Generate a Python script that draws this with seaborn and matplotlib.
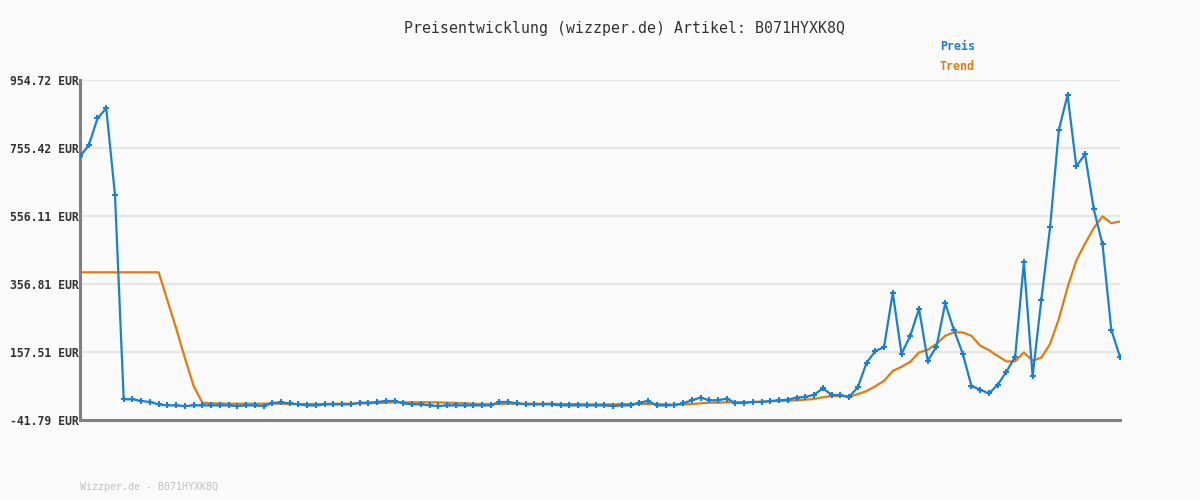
import numpy as np
import pandas as pd
import matplotlib
matplotlib.use("Agg")
import matplotlib.pyplot as plt
import seaborn as sns

# Price values (EUR)
preis = [
    731, 763, 842, 872, 619, 19, 19, 14, 11, 4,
    1, 1, -1, 1, 1, 1, 1, 1, -1, 1,
    1, -1, 8, 10, 7, 4, 1, 1, 4, 4,
    4, 4, 9, 9, 11, 14, 14, 7, 4, 4,
    1, -1, 1, 1, 1, 1, 1, 1, 11, 11,
    7, 4, 4, 4, 4, 1, 1, 1, 1, 1,
    1, -1, 1, 1, 9, 14, 1, 1, 2, 7,
    16, 24, 16, 16, 21, 8, 8, 11, 11, 14,
    16, 18, 24, 26, 32, 51, 32, 31, 26, 54,
    126, 160, 172, 331, 152, 205, 284, 132, 173, 300,
    222, 153, 58, 47, 36, 61, 100, 143, 420, 87,
    311, 523, 808, 911, 702, 737, 576, 473, 223, 143,
]

trend = [
    391, 391, 391, 391, 391, 391, 391, 391, 391, 391,
    309, 227, 140, 58, 9, 7, 7, 6, 6, 6,
    6, 6, 6, 6, 5, 5, 5, 5, 5, 6,
    6, 6, 7, 7, 8, 9, 10, 10, 10, 10,
    10, 10, 9, 8, 7, 6, 5, 5, 5, 6,
    6, 6, 6, 6, 6, 5, 5, 5, 4, 4,
    4, 4, 5, 5, 5, 5, 5, 4, 3, 4,
    5, 7, 9, 9, 10, 10, 11, 11, 12, 13,
    14, 15, 16, 18, 20, 25, 28, 29, 26, 34,
    43, 57, 73, 102, 114, 129, 156, 164, 181, 205,
    215, 215, 205, 176, 163, 146, 130, 130, 156, 132,
    141, 181, 254, 347, 426, 475, 521, 555, 535, 540,
]

y_ticks = [-41.79, 157.51, 356.81, 556.11, 755.42, 954.72]
tick_labels = [f"{v:.2f} EUR" for v in y_ticks]

blue = "#1a80d0"
orange = "#e07c10"
bg = "#fafafa"

df = pd.DataFrame({"idx": np.arange(len(preis)), "Preis": preis, "Trend": trend})

sns.set_theme(style="white")
plt.rcParams["font.family"] = ["DejaVu Sans Mono", "DejaVu Sans"]

fig = plt.figure(figsize=(12, 5), dpi=100, facecolor=bg)
ax = fig.add_axes([80 / 1200, 80 / 500, 1040 / 1200, 340 / 500])
ax.set_facecolor(bg)

# grid lines
for v in y_ticks:
    ax.axhline(v, color="#e6e6e6", lw=1.6, zorder=0)

sns.lineplot(data=df, x="idx", y="Trend", color=orange, lw=1.6, ax=ax, zorder=2)
sns.lineplot(data=df, x="idx", y="Preis", color=blue, lw=1.6, marker="+",
             markersize=5, markeredgewidth=1.5, markeredgecolor=blue, ax=ax, zorder=3)

ax.set_xlim(0, len(preis) - 1)
ax.set_ylim(y_ticks[0], y_ticks[-1])
ax.set_yticks(y_ticks)
ax.set_yticklabels(tick_labels, fontsize=8.3, fontweight="bold", color="#333333")
ax.set_xticks([])
ax.tick_params(axis="y", length=0, pad=1)
ax.set_xlabel("")
ax.set_ylabel("")

for s in ["top", "right"]:
    ax.spines[s].set_visible(False)
for s in ["left", "bottom"]:
    ax.spines[s].set_color("#808080")
    ax.spines[s].set_linewidth(2.2)

fig.text(624 / 1200, 1 - 28 / 500, "Preisentwicklung (wizzper.de) Artikel: B071HYXK8Q",
         ha="center", va="center", fontsize=10.7, color="#333333")
fig.text(940 / 1200, 1 - 47 / 500, "Preis", ha="left", va="center",
         fontsize=8.4, fontweight="bold", color=blue)
fig.text(940 / 1200, 1 - 67 / 500, "Trend", ha="left", va="center",
         fontsize=8.4, fontweight="bold", color=orange)
fig.text(80 / 1200, 1 - 487 / 500, "Wizzper.de - B071HYXK8Q", ha="left", va="center",
         fontsize=7.2, color="#c0c0c0")

fig.savefig("out.png", dpi=100, facecolor=bg)
